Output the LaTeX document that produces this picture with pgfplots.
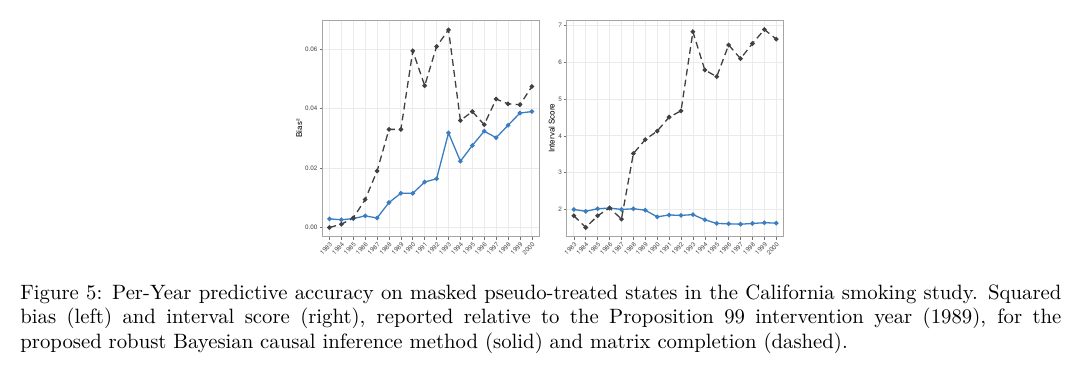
\documentclass[border=0pt]{standalone}
\usepackage{fontspec}
\usepackage{pgfplots}
\pgfplotsset{compat=1.18}
\newfontfamily\plotfont{TeX Gyre Heros}
\definecolor{solidblue}{RGB}{58,125,192}
\definecolor{dashgray}{RGB}{64,64,64}
\pgfplotsset{
  panel/.style={
    scale only axis, width=108.35pt, height=108.35pt,
    xmin=-0.6, xmax=17.6,
    xtick={0,...,17},
    xticklabels={1983,1984,1985,1986,1987,1988,1989,1990,1991,1992,1993,1994,1995,1996,1997,1998,1999,2000},
    tick pos=left, tick align=outside,
    major tick length=1.4pt,
    every tick/.style={black!55, line width=0.3pt},
    grid=major,
    major grid style={color=black!8, line width=0.4pt},
    axis line style={black!35, line width=0.45pt},
    /pgf/number format/assume math mode=true,
    tick label style={font=\plotfont\fontsize{3.2}{3.8}\selectfont, text=black!70},
    x tick label style={rotate=45, anchor=north east, inner sep=0.6pt},
    y tick label style={inner sep=0.8pt},
    label style={font=\plotfont\fontsize{4}{4.8}\selectfont, text=black},
    clip=false,
  },
  solidline/.style={solidblue, line width=0.65pt, mark=*, mark size=0.8pt, mark options={solid, fill=solidblue}},
  dashline/.style={dashgray, line width=0.65pt, dash pattern=on 3.4pt off 2.1pt, mark=*, mark size=0.8pt, mark options={solid, fill=dashgray}},
}
\begin{document}
\begin{tikzpicture}
\path[use as bounding box] (0,0) rectangle (540pt,193pt);
% Left panel
\begin{axis}[panel, at={(161.15pt,74.65pt)}, anchor=south west,
  ymin=-0.0031, ymax=0.0698,
  ytick={0,0.02,0.04,0.06}, yticklabels={0.00,0.02,0.04,0.06},
  scaled y ticks=false,
  ylabel={Bias²},
  ylabel style={at={(axis description cs:-0.1065,0.5)}, anchor=center, rotate=0},
]
\addplot[solidline] coordinates {
(0,0.0029) (1,0.0026) (2,0.0030) (3,0.0039) (4,0.0032) (5,0.0084) (6,0.0115) (7,0.0115) (8,0.0153) (9,0.0164) (10,0.0318) (11,0.0223) (12,0.0276) (13,0.0324) (14,0.0302) (15,0.0344) (16,0.0385) (17,0.0390)};
\addplot[dashline] coordinates {
(0,0.0000) (1,0.0011) (2,0.0032) (3,0.0094) (4,0.0190) (5,0.0330) (6,0.0330) (7,0.0594) (8,0.0477) (9,0.0609) (10,0.0665) (11,0.0360) (12,0.0390) (13,0.0346) (14,0.0432) (15,0.0416) (16,0.0413) (17,0.0474)};
\end{axis}
% Right panel
\begin{axis}[panel, at={(283.35pt,74.65pt)}, anchor=south west,
  ymin=1.26, ymax=7.15,
  ytick={2,3,4,5,6,7},
  ylabel={Interval Score},
  ylabel style={at={(axis description cs:-0.069,0.5)}, anchor=center, rotate=0},
]
\addplot[solidline] coordinates {
(0,2.00) (1,1.95) (2,2.02) (3,2.04) (4,2.00) (5,2.02) (6,1.98) (7,1.80) (8,1.85) (9,1.84) (10,1.86) (11,1.72) (12,1.62) (13,1.61) (14,1.60) (15,1.62) (16,1.64) (17,1.63)};
\addplot[dashline] coordinates {
(0,1.83) (1,1.51) (2,1.83) (3,2.04) (4,1.74) (5,3.52) (6,3.90) (7,4.13) (8,4.51) (9,4.68) (10,6.83) (11,5.79) (12,5.61) (13,6.47) (14,6.10) (15,6.51) (16,6.89) (17,6.63)};
\end{axis}
% Caption
\node[anchor=base west, inner sep=0pt, text width=520.5pt, align=justify,
  font=\fontsize{10.37}{12.2}\selectfont] at (10pt,43.35pt)
{Figure 5: Per-Year predictive accuracy on masked pseudo-treated states in the California smoking study. Squared\linebreak
bias (left) and interval score (right), reported relative to the Proposition 99 intervention year (1989), for the\linebreak
proposed robust Bayesian causal inference method (solid) and matrix completion (dashed).};
\end{tikzpicture}
\end{document}
